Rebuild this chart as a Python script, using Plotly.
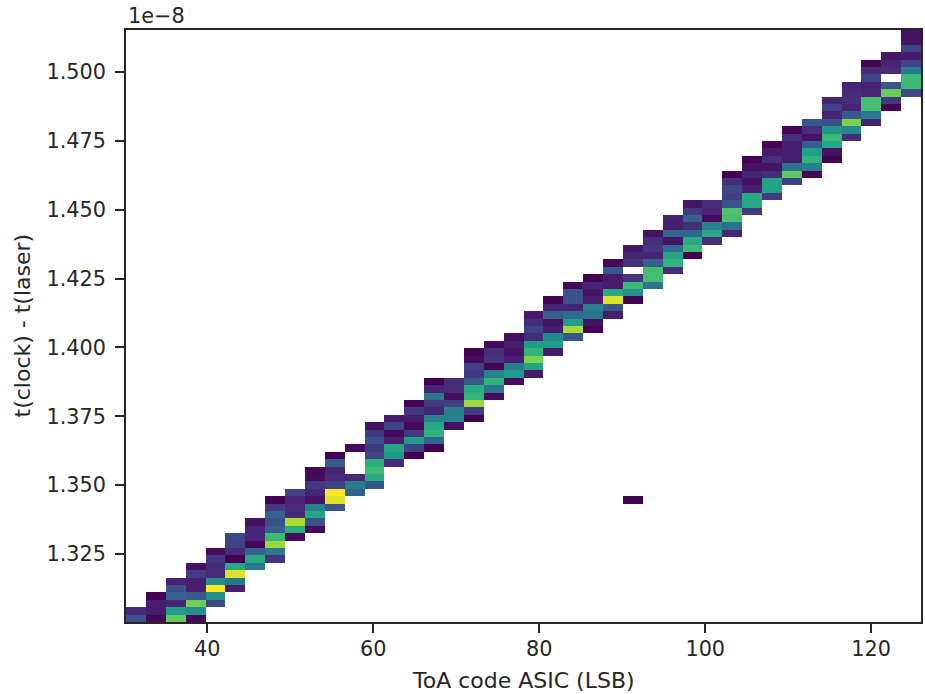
import numpy as np
import plotly.graph_objects as go

x_min, x_max = 30.2, 126.0
y_min, y_max = 1.3003, 1.51525
n_x, n_y = 40, 80

x_label = "ToA code ASIC (LSB)"
y_label = "t(clock) - t(laser)"
x_ticks = [40, 60, 80, 100, 120]
y_ticks = [1.325, 1.350, 1.375, 1.400, 1.425, 1.450, 1.475, 1.500]
y_tick_text = ["1.325", "1.350", "1.375", "1.400", "1.425", "1.450", "1.475", "1.500"]

# first occupied y-bin of every x-bin
first_bin = [0, 0, 0, 0, 2, 4, 7, 8, 11, 12, 15, 17, 18, 21, 22, 23, 26, 27, 30, 32,
             33, 36, 38, 39, 41, 43, 45, 47, 49, 51, 52, 55, 57, 59, 60, 62, 65, 67, 69, 71]

# relative density of the occupied y-bins (None = empty bin)
density = [
    [.25, .12],
    [.02, .08, .08, 0],
    [.75, .55, .1, .3, .25, .1],
    [.02, .5, .78, .28, .08, .08, .18, .05],
    [.22, .5, 1.0, .5, .12, .12, .15, .03],
    [.08, .4, .95, .6, 0, .12, .2, .22],
    [.4, .6, .32, .02, .1, .1, .05],
    [.15, .4, .85, .68, .3, .25, .32, .18, 0],
    [.03, .62, .88, .12, .12, .1, .2],
    [.02, .25, .58, .45, .05, .1, .17, .03, .02],
    [.25, .95, 1.0, .2, .12, .1, .28, 0],
    [.3, .42, .12, None, None, None, .03],
    [.27, .6, .68, .62, .2, .17, .25, .17, .05],
    [.12, .55, .58, .08, .02, .2, .07],
    [0, .2, .55, .17, .02, .08, .17, 0],
    [0, .33, .65, .6, .45, .1, .17, .4, .1, 0],
    [.04, .45, .43, .2, .04, .12, .12],
    [0, .17, .85, .65, .62, .28, .17, .2, .03, .01],
    [.02, .38, .65, .45, .01, .15, .13, .03],
    [.03, .55, .42, .09, .05, .08, .04],
    [.07, .58, .8, .65, .55, .12, .2, .13, .07],
    [.07, .55, .48, .08, .05, .3, .1, 0],
    [.27, .87, .55, .35, .1, .25, .25, .02],
    [0, .05, .38, .43, .08, .05, .1, 0],
    [.08, .27, .95, .6, .07, .07, .28, .02],
    [0, .5, .68, .15, None, .15, .1, .06],
    [.38, .7, .7, .3, .1, .15, .13, .05],
    [.12, .65, .58, .35, .06, .33, .08, .09],
    [0, .68, .6, .33, .13, .3, .17, .06],
    [.13, .6, .45, .03, .1, .13],
    [.1, .37, .7, .72, .27, .18, .22, .13, 0],
    [.17, .6, .6, .09, .05, .1, .05, 0],
    [.18, .57, .58, .13, .05, .13, .07, .01],
    [.2, .75, .37, .08, .08, .08, .13, .01],
    [.01, .43, .65, .57, .3, .05, .13, .27],
    [.01, .05, .6, .68, .53, .25, .1, .2, .1],
    [.12, .47, .8, .28, .1, .13, .12, .1],
    [.1, .42, .7, .7, .1, .09, .2, .12, .01],
    [0, .17, .77, .27, None, .12, .1, .06],
    [.22, .68, .68, .42, .2, .07, .2, .05, .05],
]

outlier_x_bin, outlier_y_bin, outlier_value = 25, 16, 0

z = np.full((n_y, n_x), np.nan)
for col, (start, values) in enumerate(zip(first_bin, density)):
    for k, v in enumerate(values):
        if v is not None and start + k < n_y:
            z[start + k, col] = v
z[outlier_y_bin, outlier_x_bin] = outlier_value

x_edges = np.linspace(x_min, x_max, n_x + 1)
y_edges = np.linspace(y_min, y_max, n_y + 1)

fig = go.Figure(go.Heatmap(
    x=x_edges, y=y_edges, z=z, colorscale="Viridis", zmin=0, zmax=1,
    showscale=False, hoverongaps=False,
))

font = dict(family="DejaVu Sans", size=20.8, color="#262626")
label_font = dict(family="DejaVu Sans", size=22, color="#262626")
axis = dict(showgrid=False, zeroline=False, showline=True, linecolor="#262626", linewidth=1.5,
            mirror=True, ticks="outside", ticklen=9, tickwidth=1.5, tickcolor="#262626",
            tickfont=font)
fig.update_layout(
    width=925, height=694, margin=dict(l=126, r=4, t=30, b=72, autoexpand=False),
    plot_bgcolor="white", paper_bgcolor="white", font=font,
    xaxis=dict(range=[x_min, x_max], tickvals=x_ticks, ticklabelstandoff=-2, **axis),
    yaxis=dict(range=[y_min, y_max], tickvals=y_ticks, ticktext=y_tick_text, ticklabelstandoff=5, **axis),
    annotations=[
        dict(text="1e\u22128", xref="paper", yref="paper", x=0, y=1, xanchor="left", yanchor="bottom",
             showarrow=False, font=font, yshift=0),
        dict(text=x_label, xref="paper", yref="paper", x=0.5, y=0, xanchor="center", yanchor="top",
             showarrow=False, font=label_font, yshift=-44),
        dict(text=y_label, xref="paper", yref="paper", x=0, y=0.5, xanchor="right", yanchor="middle",
             textangle=-90, showarrow=False, font=label_font, xshift=-90),
    ],
)
fig.write_html("out.html", default_width="925px", default_height="694px",
               config={"displayModeBar": False},
               post_script="document.body.style.margin='0';document.documentElement.style.overflow='hidden';")
